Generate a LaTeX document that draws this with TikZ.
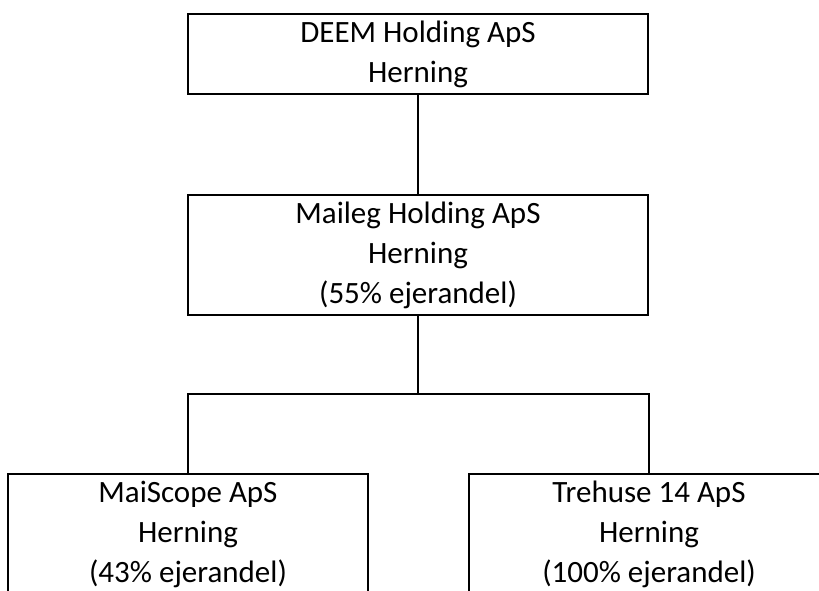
\documentclass[tikz,border=0pt]{standalone}
\usepackage{fontspec}
\setmainfont{Carlito}
\usepackage{tikz}
\usetikzlibrary{positioning}

\begin{document}
\begin{tikzpicture}[
    x=1pt, y=-1pt,
    company/.style={draw, line width=2.4pt, rectangle, align=center,
                    minimum width=460pt, inner sep=0pt,
                    font=\fontsize{31}{40}\selectfont},
    sub/.style={company, minimum width=360pt},
    link/.style={line width=1.6pt},
]

\clip (0,0) rectangle (819,590);

% === Owners ===
\node[company, minimum height=80pt]  (deem)   at (418,54)  {DEEM Holding ApS\\Herning};
\node[company, minimum height=120pt] (maileg) at (418,255) {Maileg Holding ApS\\Herning\\(55\% ejerandel)};

% === Subsidiaries ===
\node[sub, minimum height=120pt] (maiscope) at (188,534) {MaiScope ApS\\Herning\\(43\% ejerandel)};
\node[sub, minimum height=120pt] (trehuse)  at (649,534) {Trehuse 14 ApS\\Herning\\(100\% ejerandel)};

% === Links ===
\coordinate (split) at (418,394);
\draw[link] (deem) -- (maileg);
\draw[link] (maileg) -- (split);
\draw[link] (split) -| (maiscope.north);
\draw[link] (split) -| (trehuse.north);

\end{tikzpicture}
\end{document}
